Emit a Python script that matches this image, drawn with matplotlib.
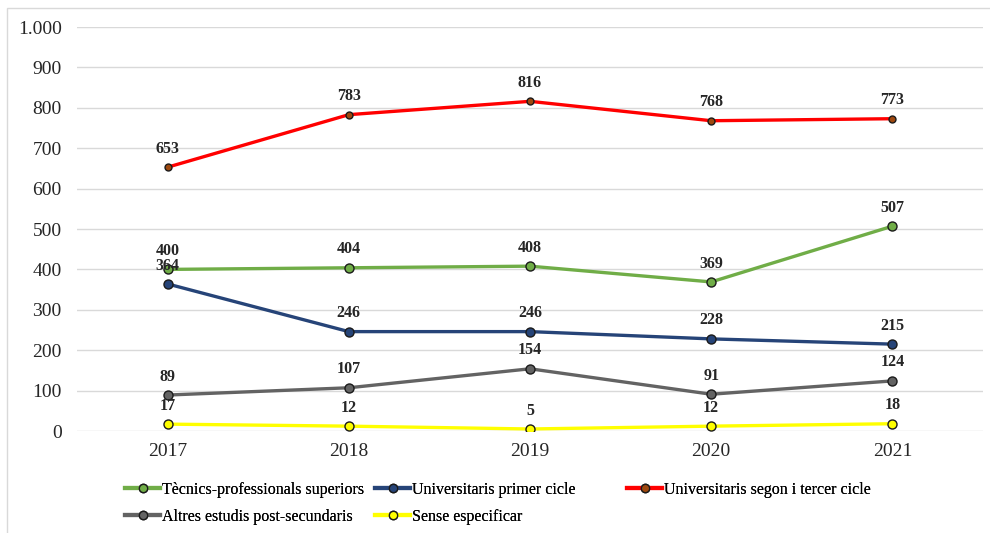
# =========================
# IMPORTAR LLIBRERIES
# =========================

import matplotlib
matplotlib.use("Agg")
import matplotlib.pyplot as plt
from matplotlib.lines import Line2D
from matplotlib.ticker import FuncFormatter

plt.rcParams['font.family'] = ['Liberation Serif', 'DejaVu Serif']


# =========================
# DADES
# =========================

anys = ['2017', '2018', '2019', '2020', '2021']

tecnics = [400, 404, 408, 369, 507]
primer_cicle = [364, 246, 246, 228, 215]
segon_cicle = [653, 783, 816, 768, 773]
altres = [89, 107, 154, 91, 124]
sense = [17, 12, 5, 12, 18]

noms = [
    "Tècnics-professionals superiors",
    "Universitaris primer cicle",
    "Universitaris segon i tercer cicle",
    "Altres estudis post-secundaris",
    "Sense especificar",
]


# =========================
# ESTILS
# =========================

series = [
    (tecnics, '#70AD47', '#70AD47', 6.5),
    (primer_cicle, '#264478', '#264478', 6.5),
    (segon_cicle, '#FF0000', '#9E480E', 5),
    (altres, '#636363', '#636363', 6.5),
    (sense, '#FFFF00', '#FFFF00', 6.5),
]


# =========================
# GRAFICAR
# =========================

fig = plt.figure(figsize=(9.9, 5.33), dpi=100)
ax = fig.add_axes([77 / 990, 1 - 431 / 533, (983 - 77) / 990, (431 - 27) / 533])

x = list(range(len(anys)))
handles = []

for (valors, color, mcolor, ms), nom in zip(series, noms):
    ax.plot(x, valors, color=color, lw=2.4, marker='o', ms=ms,
            markerfacecolor=mcolor, markeredgecolor='#1a1a1a',
            markeredgewidth=1.0, zorder=3, solid_capstyle='round')
    for xi, v in zip(x, valors):
        ax.annotate(str(v), (xi, v), xytext=(0, 7.5), textcoords='offset points',
                    ha='center', va='bottom', fontsize=11.5, fontweight='bold',
                    color='#262626', zorder=4)
    handles.append(Line2D([0], [0], color=color, lw=3, marker='o', ms=6,
                          markerfacecolor=mcolor, markeredgecolor='#1a1a1a',
                          markeredgewidth=1.0, label=nom))

ax.set_xlim(-0.5, len(anys) - 0.5)
ax.set_ylim(0, 1000)
ax.set_yticks(range(0, 1001, 100))
ax.yaxis.set_major_formatter(FuncFormatter(lambda v, p: f"{int(v):,}".replace(",", ".")))
ax.set_xticks(x)
ax.set_xticklabels(anys)

ax.grid(axis='y', color='#d9d9d9', lw=1.0, zorder=0)
ax.set_axisbelow(True)
for s in ax.spines.values():
    s.set_visible(False)
ax.tick_params(axis='both', length=0, labelsize=14, colors='#262626')
ax.tick_params(axis='y', pad=11)
ax.tick_params(axis='x', pad=9)


# =========================
# LLEGENDA
# =========================

columnes = [([0, 3], 125), ([1, 4], 375), ([2], 627)]
for idx, px in columnes:
    leg = fig.legend([handles[i] for i in idx], [noms[i] for i in idx],
                     loc='upper left', bbox_to_anchor=(px / 990, 1 - 482 / 533),
                     frameon=False, fontsize=11.5, borderpad=0, borderaxespad=0,
                     handlelength=2.2, handletextpad=0.1, labelspacing=0.68)
    fig.add_artist(leg)

# marc del grafic
fig.add_artist(plt.Rectangle((7 / 990, -0.05), 1.1, 1 - 8 / 533 + 0.05,
                             transform=fig.transFigure, fill=False,
                             edgecolor='#d9d9d9', lw=1.0))

fig.savefig("out.png", dpi=100)
